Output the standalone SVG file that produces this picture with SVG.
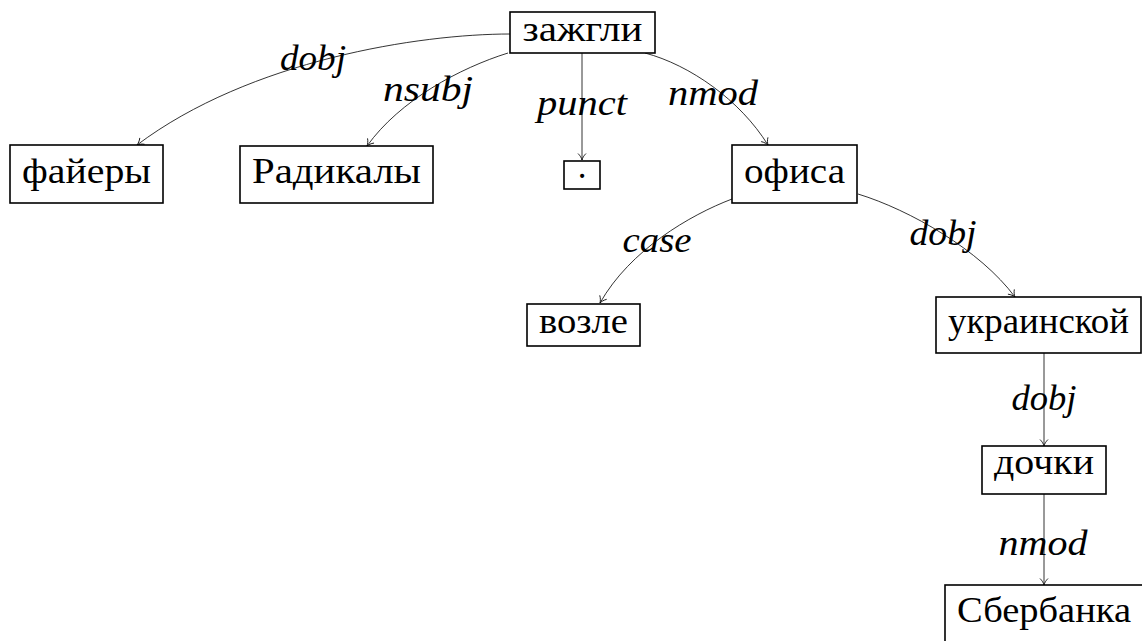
<svg xmlns="http://www.w3.org/2000/svg" width="1142" height="641" viewBox="0 0 1142 641">
<style>
.box{fill:#fff;stroke:#000;stroke-width:1.6}
.t{font-family:"Liberation Serif","Times New Roman",serif;font-size:35px;fill:#000;text-anchor:middle}
.lbl{font-family:"Liberation Serif","Times New Roman",serif;font-style:italic;font-size:36px;fill:#000;text-anchor:middle}
.e{fill:none;stroke:#000;stroke-width:0.8;marker-end:url(#arr)}
</style>
<defs>
<marker id="arr" viewBox="-8 -5 9 10" refX="0" refY="0" markerWidth="9" markerHeight="10" orient="auto" markerUnits="userSpaceOnUse">
<path d="M-6.5,-4 C-4.5,-1.8 -1.8,-0.5 0,0 C-1.8,0.5 -4.5,1.8 -6.5,4" fill="none" stroke="#000" stroke-width="0.8"/>
</marker>
</defs>
<g id="edges">
<path class="e" d="M510,34 C420,34 250,60 137,145"/>
<path class="e" d="M508,53 C460,68 400,100 367,146"/>
<path class="e" d="M582,53 L582,160"/>
<path class="e" d="M645,53 C690,65 740,100 768,145"/>
<path class="e" d="M732,199 C690,215 630,250 600,303"/>
<path class="e" d="M858,194 C910,210 980,250 1015,297"/>
<path class="e" d="M1044,353 L1044,446"/>
<path class="e" d="M1044,494 L1044,585"/>
</g>
<g id="labels">
<text class="lbl" x="313" y="70" textLength="66" lengthAdjust="spacingAndGlyphs">dobj</text>
<text class="lbl" x="428" y="101" textLength="90" lengthAdjust="spacingAndGlyphs">nsubj</text>
<text class="lbl" x="582" y="115" textLength="90" lengthAdjust="spacingAndGlyphs">punct</text>
<text class="lbl" x="713" y="105" textLength="90" lengthAdjust="spacingAndGlyphs">nmod</text>
<text class="lbl" x="657" y="252" textLength="69" lengthAdjust="spacingAndGlyphs">case</text>
<text class="lbl" x="943" y="245" textLength="67" lengthAdjust="spacingAndGlyphs">dobj</text>
<text class="lbl" x="1044" y="410" textLength="65" lengthAdjust="spacingAndGlyphs">dobj</text>
<text class="lbl" x="1043" y="555" textLength="89" lengthAdjust="spacingAndGlyphs">nmod</text>
</g>
<g id="n-zazhgli"><rect class="box" x="510" y="12" width="145" height="41"/><text class="t" x="582.5" y="41" textLength="120" lengthAdjust="spacingAndGlyphs">зажгли</text></g>
<g id="n-faiery"><rect class="box" x="10" y="145" width="153" height="58"/><text class="t" x="86.5" y="183" textLength="129" lengthAdjust="spacingAndGlyphs">файеры</text></g>
<g id="n-radikaly"><rect class="box" x="240" y="146" width="193" height="57"/><text class="t" x="336.5" y="183" textLength="169" lengthAdjust="spacingAndGlyphs">Радикалы</text></g>
<g id="n-punct"><rect class="box" x="564" y="161" width="36" height="28"/><text class="t" x="582" y="178">.</text></g>
<g id="n-ofisa"><rect class="box" x="732" y="145" width="125" height="58"/><text class="t" x="794.5" y="183" textLength="101" lengthAdjust="spacingAndGlyphs">офиса</text></g>
<g id="n-vozle"><rect class="box" x="527" y="304" width="113" height="42"/><text class="t" x="583.5" y="333" textLength="89" lengthAdjust="spacingAndGlyphs">возле</text></g>
<g id="n-ukrainskoi"><rect class="box" x="936" y="297" width="205" height="56"/><text class="t" x="1038.5" y="333" textLength="181" lengthAdjust="spacingAndGlyphs">украинской</text></g>
<g id="n-dochki"><rect class="box" x="982" y="446" width="124" height="48"/><text class="t" x="1044" y="474" textLength="100" lengthAdjust="spacingAndGlyphs">дочки</text></g>
<g id="n-sberbanka"><rect class="box" x="945" y="585" width="198" height="58"/><text class="t" x="1044" y="622" textLength="174" lengthAdjust="spacingAndGlyphs">Сбербанка</text></g>
</svg>
